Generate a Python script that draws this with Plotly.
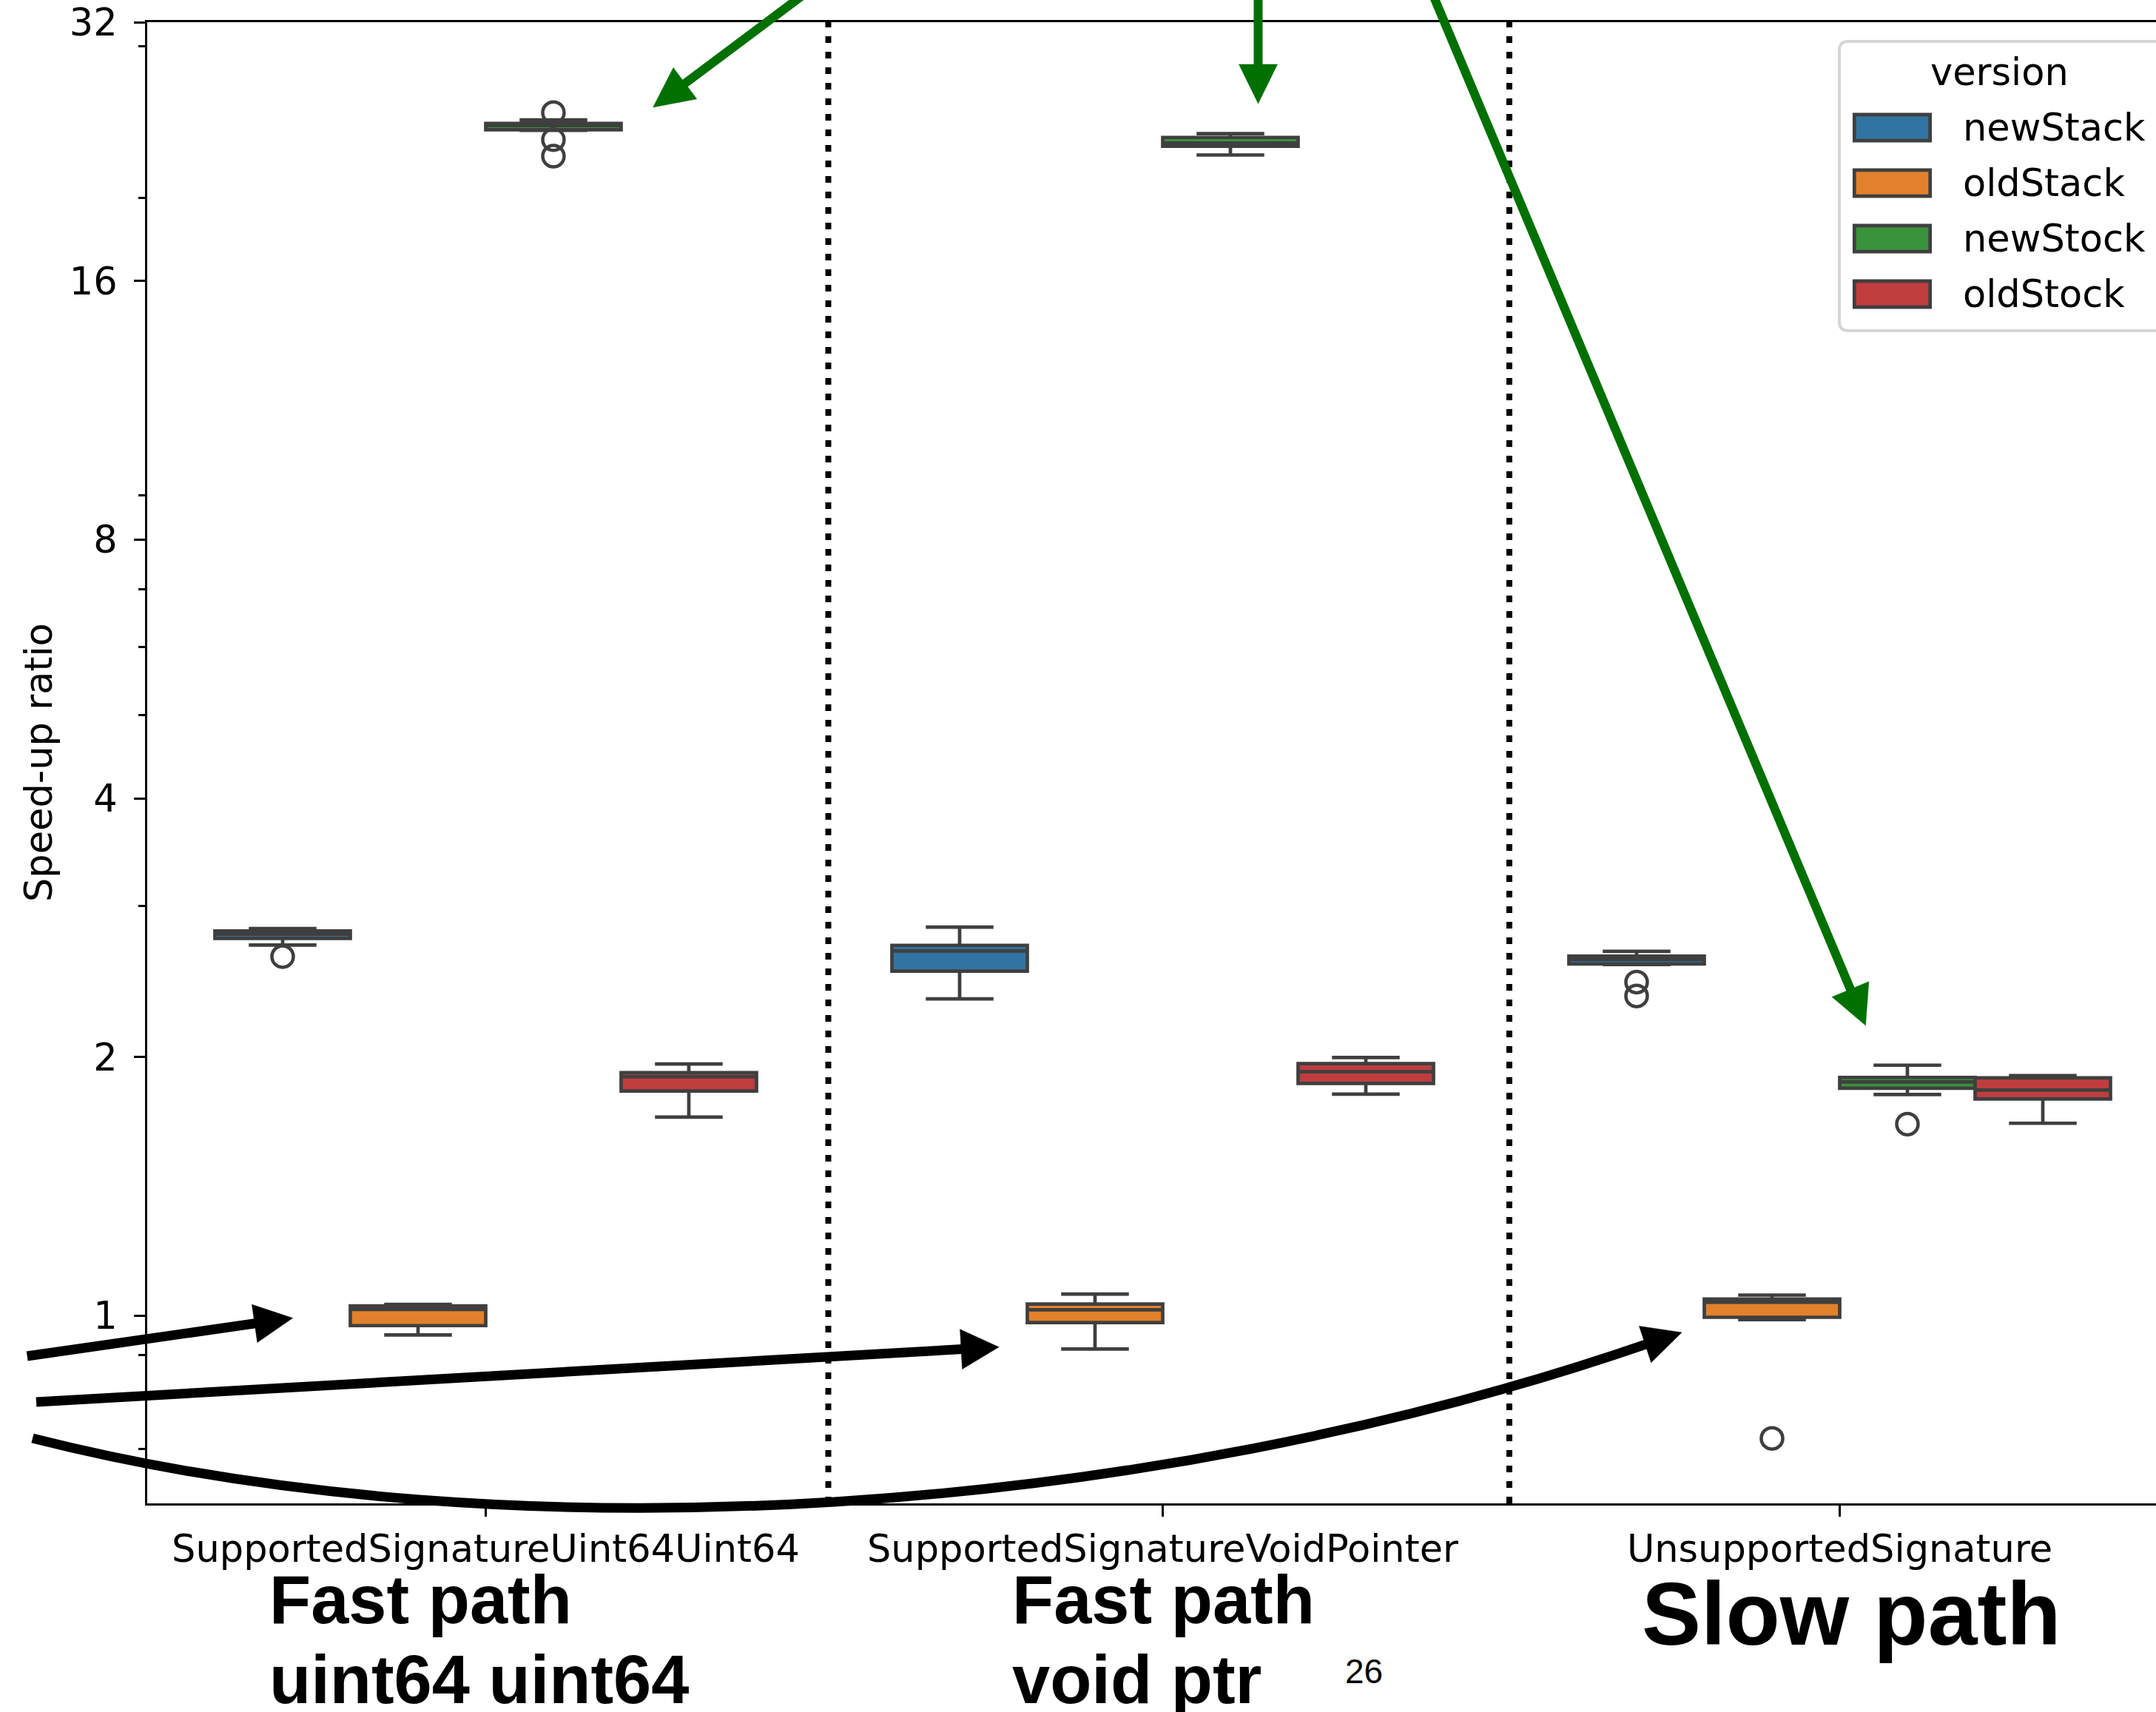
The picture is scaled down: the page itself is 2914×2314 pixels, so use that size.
import math
import plotly.graph_objects as go

# ---------------- data ----------------
categories = ["SupportedSignatureUint64Uint64", "SupportedSignatureVoidPointer", "UnsupportedSignature"]
versions = ["newStack", "oldStack", "newStock", "oldStock"]
colors = ["#3274a1", "#e1812c", "#3a923a", "#c03d3e"]

newStack_lower = [2.700, 2.337, 2.563]
newStack_q1 = [2.749, 2.518, 2.567]
newStack_median = [2.780, 2.657, 2.598]
newStack_q3 = [2.804, 2.698, 2.621]
newStack_upper = [2.822, 2.833, 2.655]
newStack_outliers = [[2.618], [], [2.445, 2.356]]

oldStack_lower = [0.950, 0.915, 0.990]
oldStack_q1 = [0.974, 0.982, 0.996]
oldStack_median = [1.017, 1.016, 1.037]
oldStack_q3 = [1.027, 1.032, 1.046]
oldStack_upper = [1.031, 1.060, 1.057]
oldStack_outliers = [[], [], [0.720]]

newStock_lower = [23.95, 22.42, 1.809]
newStock_q1 = [23.99, 22.95, 1.840]
newStock_median = [24.26, 23.15, 1.871]
newStock_q3 = [24.40, 23.50, 1.894]
newStock_upper = [24.63, 23.74, 1.957]
newStock_outliers = [[25.12, 23.36, 22.35], [], [1.671]]

oldStock_lower = [1.703, 1.811, 1.675]
oldStock_q1 = [1.826, 1.864, 1.788]
oldStock_median = [1.897, 1.923, 1.831]
oldStock_q3 = [1.918, 1.965, 1.892]
oldStock_upper = [1.963, 1.998, 1.903]
oldStock_outliers = [[], [], []]

y_ticks = [1, 2, 4, 8, 16, 32]
y_minor_ticks = [0.7, 0.8, 0.9, 3, 5, 6, 7, 9, 20, 30]
y_limits = [0.605, 32]
separators = [0.506, 1.512]

stats = {
    "newStack": (newStack_lower, newStack_q1, newStack_median, newStack_q3, newStack_upper, newStack_outliers),
    "oldStack": (oldStack_lower, oldStack_q1, oldStack_median, oldStack_q3, oldStack_upper, oldStack_outliers),
    "newStock": (newStock_lower, newStock_q1, newStock_median, newStock_q3, newStock_upper, newStock_outliers),
    "oldStock": (oldStock_lower, oldStock_q1, oldStock_median, oldStock_q3, oldStock_upper, oldStock_outliers),
}

# ---------------- layout geometry ----------------
FIG_W, FIG_H = 2914, 2314
L, T, R, B = 199, 30, 2914, 2032
W, H = R - L, B - T
LINE = "#3f3f3f"
FONT = "DejaVu Sans"
FS = 51
group_width = 0.8
n_hue = len(versions)
box_w = group_width / n_hue

fig = go.Figure()

for h, ver in enumerate(versions):
    lo, q1, med, q3, up, outs = stats[ver]
    off = -group_width / 2 + box_w * (h + 0.5)
    xs = [i + off for i in range(len(categories))]
    fig.add_trace(go.Box(
        x=xs, q1=q1, median=med, q3=q3, lowerfence=lo, upperfence=up,
        orientation="v", width=box_w, name=ver, fillcolor=colors[h],
        line=dict(color=LINE, width=4.7), whiskerwidth=0.5, boxpoints=False,
        showlegend=False, hoverinfo="skip",
    ))
    ox, oy = [], []
    for i, vals in enumerate(outs):
        for v in vals:
            ox.append(i + off)
            oy.append(v)
    if ox:
        fig.add_trace(go.Scatter(
            x=ox, y=oy, mode="markers", showlegend=False, hoverinfo="skip",
            marker=dict(symbol="circle-open", size=29, color=LINE, line=dict(width=4.5, color=LINE)),
        ))

x_right = -0.5 + (R - L) / 915.0

shapes = []
annotations = []


def P(px, py):
    return ((px - L) / W, (B - py) / H)


# separators (dotted)
for s in separators:
    shapes.append(dict(type="line", xref="x", yref="paper", x0=s, x1=s, y0=0, y1=1,
                       line=dict(color="black", width=8, dash="9px,12px")))


def arrow_head(tip, direction, length, width, color):
    dx, dy = direction
    n = math.hypot(dx, dy)
    dx, dy = dx / n, dy / n
    bx, by = tip[0] - dx * length, tip[1] - dy * length
    px_, py_ = -dy, dx
    c1 = (bx + px_ * width / 2, by + py_ * width / 2)
    c2 = (bx - px_ * width / 2, by - py_ * width / 2)
    pts = [P(*tip), P(*c1), P(*c2)]
    path = "M {:.5f},{:.5f} L {:.5f},{:.5f} L {:.5f},{:.5f} Z".format(*pts[0], *pts[1], *pts[2])
    shapes.append(dict(type="path", xref="paper", yref="paper", path=path,
                       fillcolor=color, line=dict(color=color, width=0.5)))
    return (bx + dx * 6, by + dy * 6)


def straight_arrow(tail, tip, length, width, lw, color):
    base = arrow_head(tip, (tip[0] - tail[0], tip[1] - tail[1]), length, width, color)
    a, b = P(*tail), P(*base)
    shapes.append(dict(type="line", xref="paper", yref="paper", x0=a[0], y0=a[1], x1=b[0], y1=b[1],
                       line=dict(color=color, width=lw)))


GREEN = "#007000"
straight_arrow((1083, -5), (882.7, 145), 54, 53, 12, GREEN)
straight_arrow((1700.5, -5), (1700.5, 140), 53, 52, 12, GREEN)
straight_arrow((1937.6, -5), (2521.5, 1386), 53, 54, 12, GREEN)

straight_arrow((36.7, 1833), (395.6, 1781.5), 52, 52, 13, "black")
straight_arrow((49, 1895), (1350, 1820.7), 51, 54, 13, "black")

# curved arrow
tipC = (2273, 1801)
baseC = arrow_head(tipC, (49, -16), 52, 52, "black")
p0, p1, p2, p3 = P(44, 1944), P(700, 2110), P(1550, 2050), P(*baseC)
shapes.append(dict(type="path", xref="paper", yref="paper",
                   path="M {:.5f},{:.5f} C {:.5f},{:.5f} {:.5f},{:.5f} {:.5f},{:.5f}".format(*p0, *p1, *p2, *p3),
                   line=dict(color="black", width=13)))

# manual legend
lx0, ly0, lx1, ly1, r = 2486, 56, 2950, 447, 12
c = [P(lx0 + r, ly0), P(lx1, ly0), P(lx1, ly1), P(lx0 + r, ly1), P(lx0, ly1 - r), P(lx0, ly0 + r),
     P(lx0, ly1), P(lx0, ly0)]
legend_path = ("M {:.5f},{:.5f} L {:.5f},{:.5f} L {:.5f},{:.5f} L {:.5f},{:.5f} "
               "Q {:.5f},{:.5f} {:.5f},{:.5f} L {:.5f},{:.5f} Q {:.5f},{:.5f} {:.5f},{:.5f} Z").format(
    *c[0], *c[1], *c[2], *c[3], *c[6], *c[4], *c[5], *c[7], *c[0])
shapes.append(dict(type="path", xref="paper", yref="paper", path=legend_path,
                   fillcolor="white", line=dict(color="#d6d6d6", width=4)))
tx, ty = P(2702, 97)
annotations.append(dict(xref="paper", yref="paper", x=tx, y=ty, text="version", showarrow=False,
                        xanchor="center", yanchor="middle", font=dict(family=FONT, size=FS, color="black")))
for h, ver in enumerate(versions):
    cy = 172.5 + 75 * h
    a, b = P(2506.3, cy - 17.7), P(2608.7, cy + 17.7)
    shapes.append(dict(type="rect", xref="paper", yref="paper", x0=a[0], y0=a[1], x1=b[0], y1=b[1],
                       fillcolor=colors[h], line=dict(color=LINE, width=4.7)))
    ax, ay = P(2651, cy)
    annotations.append(dict(xref="paper", yref="paper", x=ax, y=ay, text=ver, showarrow=False,
                            xanchor="left", yanchor="middle", font=dict(family=FONT, size=FS, color="black")))

# y-axis title
yx, yy = P(52, 1031)
annotations.append(dict(xref="paper", yref="paper", x=yx, y=yy, text="Speed-up ratio", showarrow=False,
                        textangle=-90, xanchor="center", yanchor="middle",
                        font=dict(family=FONT, size=FS, color="black")))

# slide texts
BOLD = "Liberation Sans"
slide_texts = [
    ("Fast path", 362, 2162, 92),
    ("uint64 uint64", 362, 2270, 92),
    ("Fast path", 1366, 2162, 92),
    ("void ptr", 1366, 2270, 92),
    ("Slow path", 2217, 2181, 120),
]
for txt, px, py, sz in slide_texts:
    ax, ay = P(px, py)
    annotations.append(dict(xref="paper", yref="paper", x=ax, y=ay, text="<b>%s</b>" % txt, showarrow=False,
                            xanchor="left", yanchor="middle", font=dict(family=BOLD, size=sz, color="black")))
ax, ay = P(1816, 2259)
annotations.append(dict(xref="paper", yref="paper", x=ax, y=ay, text="26", showarrow=False,
                        xanchor="left", yanchor="middle", font=dict(family=BOLD, size=46, color="black")))

fig.update_layout(
    width=FIG_W, height=FIG_H,
    margin=dict(l=L, r=FIG_W - R, t=T, b=FIG_H - B, pad=0, autoexpand=False),
    paper_bgcolor="white", plot_bgcolor="white",
    showlegend=False, shapes=shapes, annotations=annotations,
    xaxis=dict(type="linear", range=[-0.5, x_right], tickmode="array", tickvals=list(range(len(categories))),
               ticktext=categories, ticks="outside", ticklen=15, tickwidth=3.3, tickcolor="black",
               showline=True, linewidth=3.3, linecolor="black", mirror=True, showgrid=False, zeroline=False,
               tickfont=dict(family=FONT, size=FS, color="black"), automargin=False, ticklabelstandoff=0),
    yaxis=dict(type="log", range=[math.log10(y_limits[0]), math.log10(y_limits[1])], tickmode="array",
               tickvals=y_ticks, ticktext=[str(v) for v in y_ticks], ticks="outside", ticklen=15,
               tickwidth=3.3, tickcolor="black", showline=True, linewidth=3.3, linecolor="black",
               showgrid=False, zeroline=False, tickfont=dict(family=FONT, size=FS, color="black"),
               automargin=False, ticklabelstandoff=12,
               minor=dict(tickmode="array", tickvals=y_minor_ticks, ticks="outside", ticklen=8.4,
                          tickwidth=2.5, tickcolor="black", showgrid=False)),
)

fig.write_html("out.html", config={"displayModeBar": False},
               post_script="document.body.style.margin='0';document.body.style.overflow='hidden';")
